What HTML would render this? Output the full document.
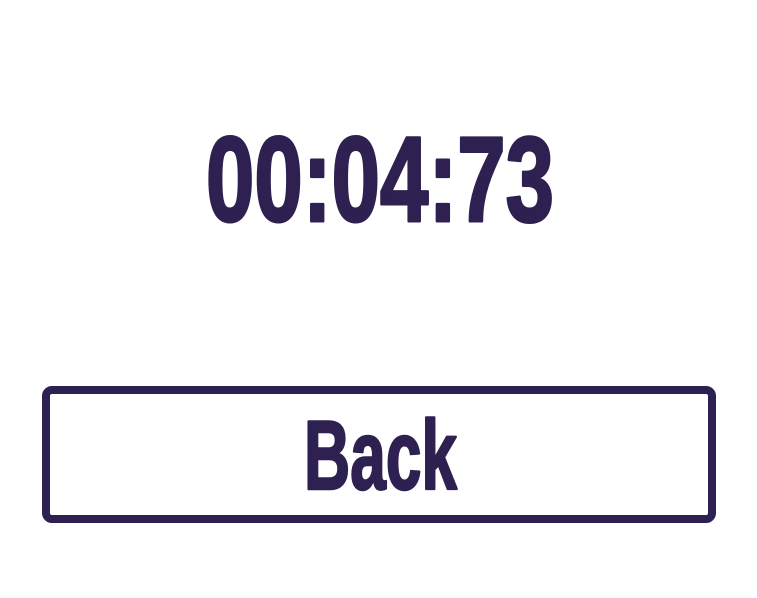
<!DOCTYPE html>
<html>
<head>
<meta charset="utf-8">
<style>
  html,body{margin:0;padding:0;background:#fff;width:757px;height:598px;overflow:hidden;}
  svg{display:block;}
  text{font-family:"Liberation Sans Narrow","Liberation Sans",sans-serif;font-weight:bold;fill:#2e2050;stroke:#2e2050;stroke-linejoin:round;}
</style>
</head>
<body>
<svg width="757" height="598" viewBox="0 0 757 598">
  <text x="206" y="221" font-size="121" stroke-width="3" textLength="348" lengthAdjust="spacingAndGlyphs">00:04:73</text>
  <g style="cursor:pointer">
    <rect x="46" y="390" width="666" height="129" rx="6" ry="6" fill="#fff" stroke="#2e2050" stroke-width="8"/>
    <text x="304" y="489" font-size="98" stroke-width="2.5" textLength="153" lengthAdjust="spacingAndGlyphs">Back</text>
  </g>
</svg>
</body>
</html>
